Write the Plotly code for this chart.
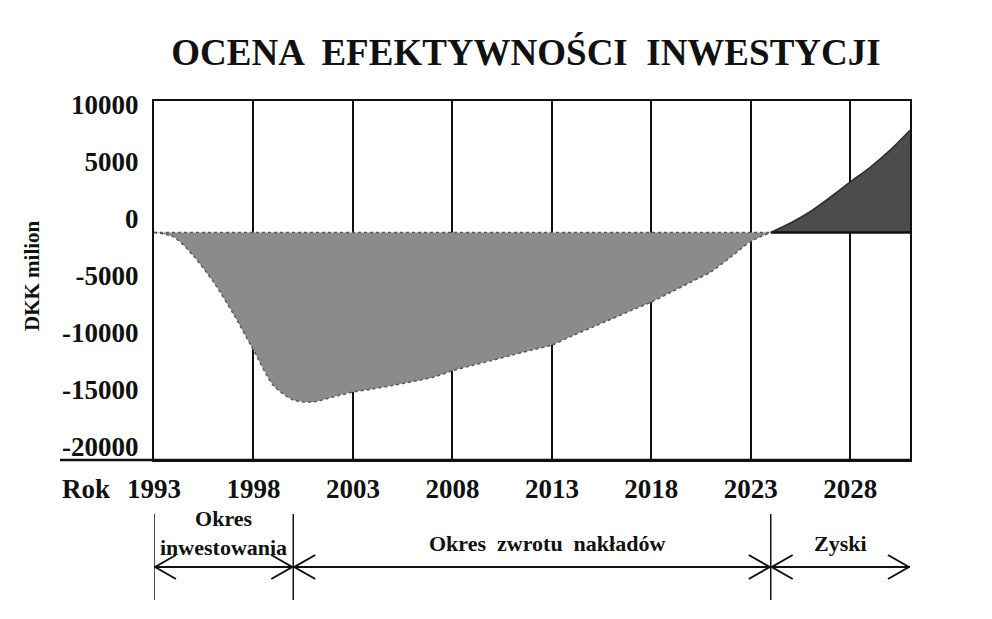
import plotly.graph_objects as go

# ---------------- data ----------------
title_text = "OCENA  EFEKTYWNOŚCI  INWESTYCJI"
y_title = "DKK milion"
x_label = "Rok"

years = list(range(1993, 2032))
cumulative = [-1180, -1580, -3260, -5550, -8350, -11500, -14600, -15880, -16050, -15610,
              -15180, -14910, -14610, -14260, -13900, -13310, -12850, -12400, -11940, -11490,
              -11050, -10270, -9520, -8770, -8020, -7280, -6410, -5530, -4630, -3330,
              -1960, -1180, -350, 660, 1910, 3250, 4540, 6040, 7790]
baseline_value = -1180          # level of the drawn "zero" line of the cash flow
breakeven_year = 2024

x_tick_years = [1993, 1998, 2003, 2008, 2013, 2018, 2023, 2028]
y_tick_values = [-20000, -15000, -10000, -5000, 0, 5000, 10000]

period_bounds = [1993, 2000, 2024, 2031]
period_labels = ["Okres<br>inwestowania", "Okres  zwrotu  nakładów", "Zyski"]

# ---------------- styling ----------------
SERIF = "Liberation Serif, Times New Roman, serif"
INK = "#111111"
GRAY = "#8b8b8b"
DARK = "#4c4c4c"

OFF = 8                          # page body margin of the browser
W, H = 992 - 2 * OFF, 619 - 2 * OFF
REF_L, REF_R, REF_T, REF_B = 154, 910, 101, 460   # plot box in window pixels
M_L, M_T = REF_L - OFF, REF_T - OFF
M_R, M_B = W - (REF_R - OFF), H - (REF_B - OFF)
plot_h = H - M_T - M_B
plot_w = W - M_L - M_R


def py(pix):          # window pixel row -> paper y
    return (REF_B - pix) / plot_h


def px(pix):          # window pixel column -> paper x
    return (pix - REF_L) / plot_w


k = years.index(breakeven_year)
loss_x, loss_y = years[:k + 1], cumulative[:k + 1]
gain_x, gain_y = years[k:], cumulative[k:]

fig = go.Figure()
fig.add_trace(go.Scatter(x=loss_x, y=[baseline_value] * len(loss_x), mode="lines",
                         line=dict(color="#5a5a5a", width=1.5, dash="dot"),
                         hoverinfo="skip", showlegend=False))
fig.add_trace(go.Scatter(x=loss_x, y=loss_y, mode="lines", fill="tonexty",
                         fillcolor=GRAY,
                         line=dict(color="#5a5a5a", width=1.5, dash="dot",
                                   shape="spline", smoothing=0.7),
                         showlegend=False))
fig.add_trace(go.Scatter(x=gain_x, y=[baseline_value] * len(gain_x), mode="lines",
                         line=dict(color=INK, width=2.5),
                         hoverinfo="skip", showlegend=False))
fig.add_trace(go.Scatter(x=gain_x, y=gain_y, mode="lines", fill="tonexty",
                         fillcolor=DARK,
                         line=dict(color="#2a2a2a", width=1.5, shape="spline", smoothing=0.6),
                         showlegend=False))

fig.update_layout(
    width=W, height=H, autosize=False,
    margin=dict(l=M_L, r=M_R, t=M_T, b=M_B, pad=0),
    paper_bgcolor="white", plot_bgcolor="white",
    font=dict(family=SERIF, color=INK),
    title=dict(text=title_text, x=px(526), xref="paper", xanchor="center",
               y=1 - (52 - OFF) / H, yref="container", yanchor="middle",
               font=dict(family=SERIF, size=37, weight="bold", color=INK)),
    xaxis=dict(range=[years[0], years[-1]], tickvals=x_tick_years,
               ticktext=[str(v) for v in x_tick_years],
               showgrid=True, gridcolor=INK, gridwidth=2,
               showline=True, linecolor=INK, linewidth=2, mirror=True,
               ticks="", ticklabelstandoff=4, zeroline=False,
               tickfont=dict(family=SERIF, size=27, weight="bold", color=INK)),
    yaxis=dict(range=[-21140, 10350], tickvals=y_tick_values,
               ticktext=[str(v) for v in y_tick_values],
               showgrid=False, zeroline=False,
               showline=True, linecolor=INK, linewidth=2, mirror=True,
               ticks="", ticklabelstandoff=8,
               tickfont=dict(family=SERIF, size=27, weight="bold", color=INK)),
)

shapes = []
# bottom axis line extended to the left under the tick labels
shapes.append(dict(type="line", xref="paper", yref="paper", x0=px(60), x1=1, y0=0, y1=0,
                   line=dict(color=INK, width=2.5)))

ARROW_Y = py(567)
V_TOP, V_BOT = py(514), py(600)
for b in period_bounds[:-1]:
    shapes.append(dict(type="line", xref="x", yref="paper", x0=b, x1=b, y0=V_TOP, y1=V_BOT,
                       line=dict(color=INK, width=1.5)))
for a, b in zip(period_bounds[:-1], period_bounds[1:]):
    shapes.append(dict(type="line", xref="x", yref="paper", x0=a, x1=b, y0=ARROW_Y, y1=ARROW_Y,
                       line=dict(color=INK, width=2)))
    shapes.append(dict(type="path", xref="x", yref="paper", xsizemode="pixel", ysizemode="pixel",
                       xanchor=a, yanchor=ARROW_Y, path="M 22,12 L 1,0 L 22,-12",
                       line=dict(color=INK, width=2)))
    shapes.append(dict(type="path", xref="x", yref="paper", xsizemode="pixel", ysizemode="pixel",
                       xanchor=b, yanchor=ARROW_Y, path="M -22,12 L -1,0 L -22,-12",
                       line=dict(color=INK, width=2)))
fig.update_layout(shapes=shapes)

ann = []
ann.append(dict(text=x_label, xref="paper", yref="paper", x=px(86), y=py(489),
                xanchor="center", yanchor="middle", showarrow=False,
                font=dict(family=SERIF, size=27, weight="bold", color=INK)))
ann.append(dict(text=y_title, xref="paper", yref="paper", x=px(32), y=py(276), textangle=-90,
                xanchor="center", yanchor="middle", showarrow=False,
                font=dict(family=SERIF, size=21, weight="bold", color=INK)))
label_y = [py(533), py(543), py(543)]
label_shift = [0, 15, 0]
for (a, b), lab, yy, sh in zip(zip(period_bounds[:-1], period_bounds[1:]), period_labels,
                               label_y, label_shift):
    ann.append(dict(text=lab, xref="x", yref="paper", x=(a + b) / 2, y=yy, xshift=sh,
                    xanchor="center", yanchor="middle", showarrow=False,
                    font=dict(family=SERIF, size=22, weight="bold", color=INK)))
fig.update_layout(annotations=ann)

fig.write_html("out.html")
